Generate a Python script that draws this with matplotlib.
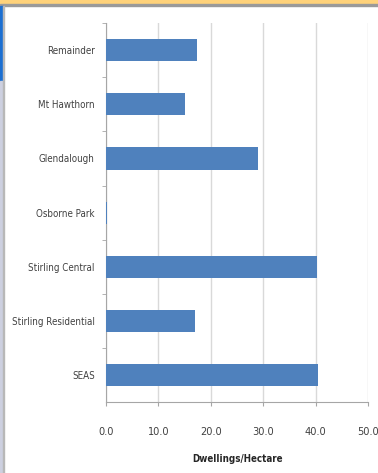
import matplotlib
matplotlib.use("Agg")
import matplotlib.pyplot as plt
from matplotlib.patches import Rectangle

# Dwellings per hectare by precinct
areas = ['Remainder', 'Mt Hawthorn', 'Glendalough', 'Osborne Park',
         'Stirling Central', 'Stirling Residential', 'SEAS']
density = [17.4, 15.1, 29.0, 0.3, 40.3, 17.0, 40.5]
x_ticks = [0, 10, 20, 30, 40, 50]

plt.rcParams['font.family'] = ['DejaVu Sans']
plt.rcParams['font.stretch'] = 'condensed'

fig = plt.figure(figsize=(3.78, 4.73), dpi=100)
ax = fig.add_axes([0.280, 0.150, 0.694, 0.801])

pos = list(range(len(areas)))[::-1]
ax.barh(pos, density, height=0.41, color='#4F81BD', zorder=3)

ax.set_xlim(0, 50)
ax.set_ylim(-0.5, len(areas) - 0.5)
ax.set_xticks(x_ticks)
ax.set_xticklabels([f'{v:.1f}' for v in x_ticks], fontsize=7.8, color='#404040')
ax.set_yticks(pos)
ax.set_yticklabels(areas, fontsize=7, color='#404040')
ax.set_yticks([p + 0.5 for p in range(len(areas))], minor=True)

ax.grid(axis='x', color='#D9D9D9', linewidth=1, zorder=0)
for s in ['top', 'right']:
    ax.spines[s].set_visible(False)
for s in ['left', 'bottom']:
    ax.spines[s].set_color('#A6A6A6')
ax.tick_params(axis='y', which='major', length=0, pad=8)
ax.tick_params(axis='y', which='minor', length=3, color='#A6A6A6')
ax.tick_params(axis='x', length=3, color='#A6A6A6', pad=15)

ax.set_xlabel('Dwellings/Hectare', fontsize=7, fontweight='bold',
              color='#262626', labelpad=12)

# window frame bits from the screenshot
fig.patches.append(Rectangle((0, 1 - 4 / 473), 1, 4 / 473, transform=fig.transFigure,
                             color='#FFD27A', zorder=0))
fig.patches.append(Rectangle((0, 1 - 6 / 473), 1, 2 / 473, transform=fig.transFigure,
                             color='#9A9A9A', zorder=0))
fig.patches.append(Rectangle((0, 1 - 81 / 473), 3 / 378, 75 / 473, transform=fig.transFigure,
                             color='#1C6FD1', zorder=0))
fig.patches.append(Rectangle((0, 0), 3 / 378, 1 - 81 / 473, transform=fig.transFigure,
                             color='#CDD0E0', zorder=0))
fig.patches.append(Rectangle((3 / 378, 0), 1 / 378, 1 - 6 / 473, transform=fig.transFigure,
                             color='#B8B8B8', zorder=0))

fig.savefig('out.png', dpi=100)
